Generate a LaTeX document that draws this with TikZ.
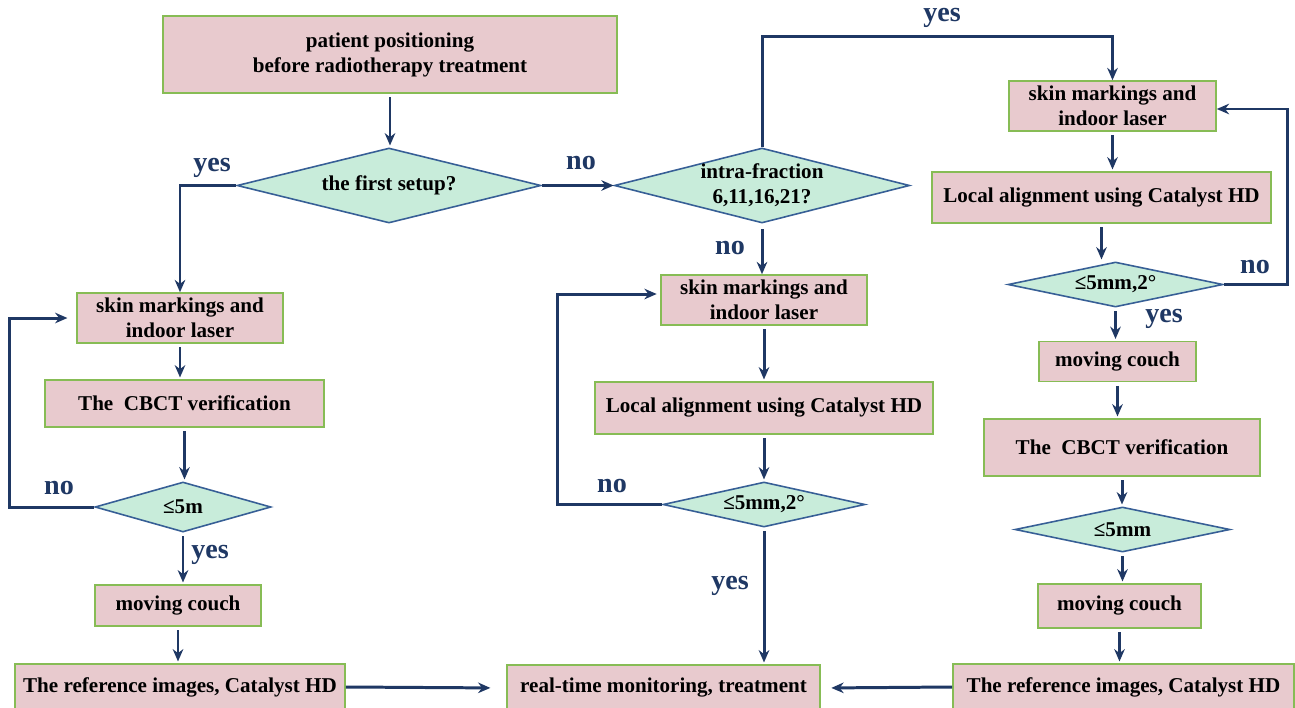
\documentclass[tikz,border=0pt]{standalone}
\usepackage{fontspec}
\setmainfont{Liberation Serif}
\usetikzlibrary{shapes.geometric,arrows.meta,calc}
\definecolor{boxpink}{RGB}{232,202,206}
\definecolor{boxgreen}{RGB}{135,188,85}
\definecolor{dmint}{RGB}{200,236,218}
\definecolor{dblue}{RGB}{55,95,150}
\definecolor{navy}{RGB}{31,56,100}
\tikzset{
  sz/.style 2 args={minimum width=#1*0.02cm,minimum height=#2*0.02cm},
  stepbox/.style={draw=boxgreen,line width=0.9pt,fill=boxpink,inner sep=0pt,
    align=center,font=\fontsize{12}{14.2}\selectfont\bfseries},
  query/.style={diamond,aspect=4,draw=dblue,line width=0.9pt,fill=dmint,inner sep=0pt,
    align=center,font=\fontsize{12}{14.2}\selectfont\bfseries},
  arr/.style={draw=navy,line width=1.7pt,-{Stealth[length=7pt,width=6pt]}},
  ans/.style={text=navy,font=\fontsize{16}{18}\selectfont\bfseries}
}

\begin{document}
\begin{tikzpicture}[x=0.02cm,y=-0.02cm]
\clip (0,0) rectangle (1295,707);
\fill[white] (0,0) rectangle (1295,707);
% start and the two questions
\node[stepbox,sz={454}{77}] (start) at (390,54.5) {patient positioning\\before radiotherapy treatment};
\node[query,sz={304}{75}] (q1) at (389,185.5) {the first setup?};
\node[query,sz={295}{75}] (q2) at (762,185.5) {intra-fraction\\6,11,16,21?};
% left column
\node[stepbox,sz={206}{50}] (L1) at (180,318) {skin markings and\\indoor laser};
\node[stepbox,sz={279}{47}] (L2) at (184.5,403.5) {The\ \ CBCT verification};
\node[query,sz={176}{50}] (L3) at (183,507) {≤5m};
\node[stepbox,sz={166}{41}] (L4) at (178,605.5) {moving couch};
\node[stepbox,sz={330}{46}] (L5) at (180,687) {The reference images, Catalyst HD};
% middle column
\node[stepbox,sz={206}{50}] (M1) at (764,300) {skin markings and\\indoor laser};
\node[stepbox,sz={338}{52}] (M2) at (764,408) {Local alignment using Catalyst HD};
\node[query,sz={202}{45}] (M3) at (764,504.5) {≤5mm,2°};
\node[stepbox,sz={313}{46}] (M4) at (663.5,688) {real-time monitoring, treatment};
% right column
\node[stepbox,sz={207}{50}] (R1) at (1112.5,106) {skin markings and\\indoor laser};
\node[stepbox,sz={339}{51}] (R2) at (1101.5,197.5) {Local alignment using Catalyst HD};
\node[query,sz={215}{45}] (R3) at (1115.5,284.5) {≤5mm,2°};
\node[stepbox,sz={157}{40}] (R4) at (1117.5,361.5) {moving couch};
\node[stepbox,sz={276}{57}] (R5) at (1122,447.5) {The\ \ CBCT verification};
\node[query,sz={215}{45}] (R6) at (1122.5,529.5) {≤5mm};
\node[stepbox,sz={163}{44}] (R7) at (1119.5,606) {moving couch};
\node[stepbox,sz={341}{46}] (R8) at (1123.5,687) {The reference images, Catalyst HD};

% straight downward steps
\foreach \a/\b in {start/q1,L1/L2,L2/L3,L3/L4,L4/L5,M1/M2,M2/M3,M3/M4,
                   R1/R2,R2/R3,R3/R4,R4/R5,R5/R6,R6/R7,R7/R8}{
  \draw[arr,shorten <=2pt,shorten >=1pt] (\a.south) -- (\a.south |- \b.north);
}
\draw[arr,shorten <=3pt] (q2.south) -- (q2.south |- M1.north);
% branches
\draw[arr] (q1.west) -| (L1.north);
\draw[arr] (q1.east) -- (q2.west);
\draw[arr] (q2.north) |- ($(R1.north)+(0,-44)$) -- ($(R1.north)+(0,0)$);
\draw[arr,shorten >=9pt] (L5.east) -- (M4.west);
\draw[arr,shorten >=6pt] (R8.west) -- (M4.east);
% loops back
\draw[arr,shorten >=5pt] (L3.west) -- ++(-85,0) |- (L1.west);
\draw[arr,shorten >=2pt] (M3.west) -- ++(-105,0) |- ($(M1.west)+(0,-6)$);
\draw[arr] (R3.east) -- ++(64,0) |- ($(R1.east)+(0,3)$);
% answers
\node[ans] (a1) at (212,168) {yes};
\node[ans] (a2) at (581,163) {no};
\node[ans] (a3) at (942,18) {yes};
\node[ans] (a4) at (730,248) {no};
\node[ans] (a5) at (1255,267) {no};
\node[ans] (a6) at (1164,319) {yes};
\node[ans] (a7) at (59,488) {no};
\node[ans] (a8) at (210,555) {yes};
\node[ans] (a9) at (612,486) {no};
\node[ans] (a10) at (730,586) {yes};
\end{tikzpicture}
\end{document}
